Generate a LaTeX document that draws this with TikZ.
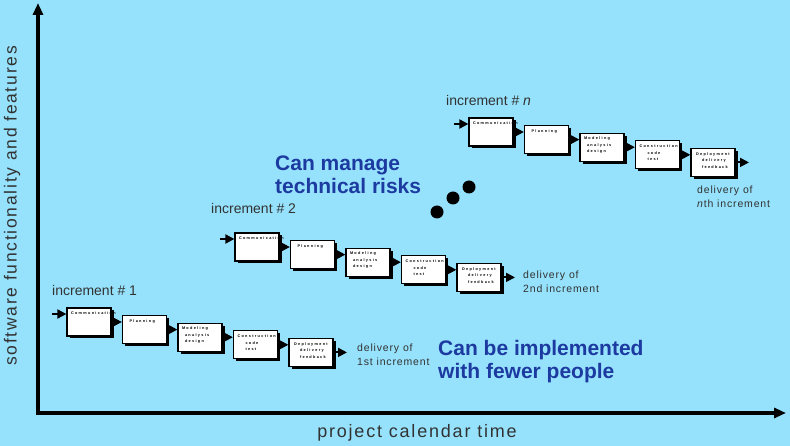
\documentclass[tikz,border=0pt]{standalone}
\usepackage{fontspec}
\setmainfont{Liberation Sans}
\newfontfamily\stagefont[LetterSpace=35]{Liberation Sans}
\newfontfamily\spacedfont[LetterSpace=8]{Liberation Sans}
\newfontfamily\axisfont[LetterSpace=10]{Liberation Sans}
\usetikzlibrary{arrows.meta,shadows}
\definecolor{skyback}{RGB}{150,226,252}
\definecolor{noteblue}{RGB}{28,58,160}
\definecolor{labelgray}{RGB}{50,50,50}
\newcommand{\stagetext}[1]{\parbox[t][20pt][t]{40pt}{\stagefont\bfseries\fontsize{3.8}{6.5}\selectfont\raggedright\hyphenpenalty=10000 #1}}

\begin{document}
\begin{tikzpicture}[x=1pt,y=-1pt,
    stagebox/.style={draw, line width=1.2pt, fill=white, minimum width=44pt, minimum height=28pt, inner sep=2pt,
        drop shadow={shadow xshift=2.5pt, shadow yshift=-2.5pt, fill=black, opacity=1}},
    flow/.style={line width=1.8pt, -{Triangle[length=9pt,width=9pt]}},
    axis/.style={line width=3.5pt, {Triangle[length=12pt,width=10pt]}-{Triangle[length=12pt,width=10pt]}},
    increment/.style={anchor=west, inner sep=0pt, font=\fontsize{14}{16}\selectfont, text=labelgray},
    delivery/.style={anchor=west, inner sep=0pt, align=left, font=\spacedfont\fontsize{10.5}{14}\selectfont, text=labelgray},
    note/.style={anchor=west, inner sep=0pt, align=left, font=\bfseries\fontsize{21}{23}\selectfont, text=noteblue}]
    \fill[skyback] (0,0) rectangle (790,446);
    \useasboundingbox (0,0) rectangle (790,446);
    % axes
    \coordinate (origin) at (38,413);
    \coordinate (ytop) at (38,3);
    \coordinate (xend) at (786,413);
    \draw[axis] (ytop) -- (origin) -- (xend);
    \node[font=\axisfont\fontsize{17.5}{20}\selectfont, text=labelgray, rotate=90] (ylabel) at (12,206) {software functionality and features};
    \node[font=\axisfont\fontsize{18}{20}\selectfont, text=labelgray] (xlabel) at (417,433) {project calendar time};
    % increments
    \foreach \r/\x/\y in {1/67/308, 2/235/233, n/469/118}{
        \node[stagebox] (com\r) at (\x+22,\y+14) {\stagetext{\hspace*{2pt}Communication}};
        \node[stagebox] (plan\r) at (\x+77.5,\y+21.6) {\stagetext{\hspace*{5pt}Planning}};
        \node[stagebox] (model\r) at (\x+133,\y+29.2) {\stagetext{\hspace*{2pt}Modeling\\\hspace*{5pt}analysis\\\hspace*{5pt}design}};
        \node[stagebox] (cons\r) at (\x+188.5,\y+36.8) {\stagetext{\hspace*{2pt}Construction\\\hspace*{10pt}code\\\hspace*{10pt}test}};
        \node[stagebox] (dep\r) at (\x+244,\y+44.4) {\stagetext{\hspace*{3pt}Deployment\\\hspace*{9pt}delivery\\\hspace*{9pt}feedback}};
        \coordinate (in\r) at (\x-15,\y+6);
        \coordinate (out\r) at (\x+280,\y+44.4);
        \draw[flow] (in\r) -- (in\r -| com\r.west);
        \draw[flow] (com\r.east) -- (com\r.east -| plan\r.west);
        \draw[flow] (plan\r.east) -- (plan\r.east -| model\r.west);
        \draw[flow] (model\r.east) -- (model\r.east -| cons\r.west);
        \draw[flow] (cons\r.east) -- (cons\r.east -| dep\r.west);
        \draw[flow] (dep\r.east) -- (out\r);
    }
    \node[increment] (inc1) at (52,290) {increment \# 1};
    \node[increment] (inc2) at (211,208.5) {increment \# 2};
    \node[increment] (incn) at (446,100) {increment \# \textit{n}};
    \node[delivery] (del1) at (357,354.5) {delivery of\\1st increment};
    \node[delivery] (del2) at (523,281.5) {delivery of\\2nd increment};
    \node[delivery] (deln) at (697,196.5) {delivery of\\\textit{n}th increment};
    \node[note] (risks) at (275,175) {Can manage\\technical risks};
    \node[note] (fewer) at (438,362) {Can be implemented\\with fewer people};
    % dots
    \fill (437,212) circle (6.5pt);
    \fill (453,198) circle (6.5pt);
    \fill (469,187) circle (6.5pt);
\end{tikzpicture}
\end{document}
